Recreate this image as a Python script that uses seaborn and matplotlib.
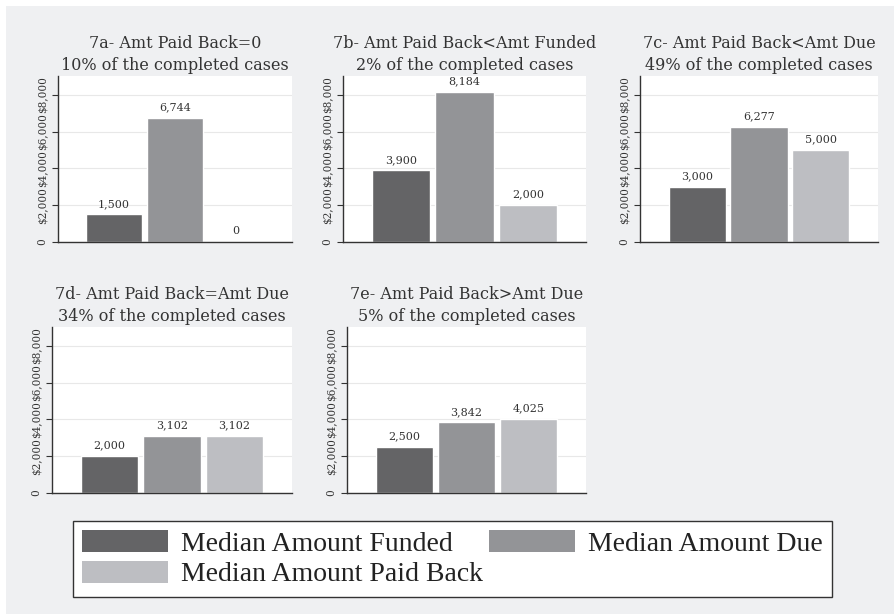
import matplotlib
matplotlib.use("Agg")
import matplotlib.pyplot as plt
import seaborn as sns
import pandas as pd
from matplotlib.patches import Rectangle, Patch

# Data
measures = ["Median Amount Funded", "Median Amount Due", "Median Amount Paid Back"]
panel_titles = [
    "7a- Amt Paid Back=0\n10% of the completed cases",
    "7b- Amt Paid Back<Amt Funded\n2% of the completed cases",
    "7c- Amt Paid Back<Amt Due\n49% of the completed cases",
    "7d- Amt Paid Back=Amt Due\n34% of the completed cases",
    "7e- Amt Paid Back>Amt Due\n5% of the completed cases",
]
funded = [1500, 3900, 3000, 2000, 2500]
due = [6744, 8184, 6277, 3102, 3842]
paid_back = [0, 2000, 5000, 3102, 4025]
ytick_vals = [0, 2000, 4000, 6000, 8000]
ytick_labels = ["0", "$2,000", "$4,000", "$6,000", "$8,000"]

palette = ["#646466", "#939497", "#bdbec2"]
bg = "#eff0f2"

sns.set_theme(style="white")
plt.rcParams["font.family"] = ["DejaVu Serif"]

W, H = 895, 614
fig = plt.figure(figsize=(W / 100, H / 100), dpi=100, facecolor="white")
fig.patches.append(Rectangle((6 / W, 0), 1, 1 - 6 / H, transform=fig.transFigure,
                             facecolor=bg, edgecolor="none", zorder=-10))

# axes boxes in pixels: left, right, top, bottom
boxes = [(58, 292, 76, 242), (343, 586, 76, 242), (640, 878, 76, 242),
         (52, 292, 327, 493), (347, 586, 327, 493)]

for i, (l, r, t, b) in enumerate(boxes):
    ax = fig.add_axes([l / W, 1 - b / H, (r - l) / W, (b - t) / H])
    df = pd.DataFrame({"measure": measures,
                       "value": [funded[i], due[i], paid_back[i]]})
    sns.barplot(data=df, x="measure", y="value", hue="measure", order=measures,
                hue_order=measures, palette=palette, width=0.92, saturation=1,
                legend=False, ax=ax, zorder=2)
    for cont in ax.containers:
        ax.bar_label(cont, labels=[f"{v:,.0f}" for v in cont.datavalues],
                     padding=4, fontsize=8, color="#333333")
    ax.set_facecolor("white")
    ax.set_xlim(-0.92, 2.92)
    ax.set_ylim(0, 9030)
    ax.set_yticks(ytick_vals)
    ax.set_yticklabels(ytick_labels)
    for lab in ax.get_yticklabels():
        lab.set_rotation(90)
        lab.set_va("center")
    ax.set_xticks([])
    ax.set_xlabel("")
    ax.set_ylabel("")
    ax.tick_params(axis="y", left=True, length=4, width=0.8, color="#333333",
                   labelsize=7.6, labelcolor="#333333", pad=4)
    ax.yaxis.grid(True, color="#e8e8e8", lw=0.8, zorder=0)
    ax.set_axisbelow(True)
    for s in ["top", "right"]:
        ax.spines[s].set_visible(False)
    for s in ["left", "bottom"]:
        ax.spines[s].set_color("#333333")
        ax.spines[s].set_linewidth(1.0)
    ax.set_title(panel_titles[i], fontsize=11.5, color="#333333", pad=4,
                 linespacing=1.45)

# column-major fill: col 1 = Funded, Paid Back; col 2 = Due
leg_order = [0, 2, 1]
handles = [Patch(facecolor=palette[k], edgecolor="none") for k in leg_order]
labels = [measures[k] for k in leg_order]
leg = fig.legend(handles, labels, loc="upper left", ncol=2,
                 bbox_to_anchor=(73 / W, 1 - 521 / H), borderaxespad=0,
                 frameon=True, framealpha=1,
                 prop={"family": "Liberation Serif", "size": 20},
                 handlelength=3.1, handleheight=0.85, handletextpad=0.47,
                 columnspacing=0.2, labelspacing=0.14, borderpad=0.33,
                 fancybox=False)
frame = leg.get_frame()
frame.set_edgecolor("#333333")
frame.set_linewidth(1.0)
frame.set_facecolor("white")
for txt in leg.get_texts():
    txt.set_color("#222222")

fig.savefig("out.png", dpi=100)
